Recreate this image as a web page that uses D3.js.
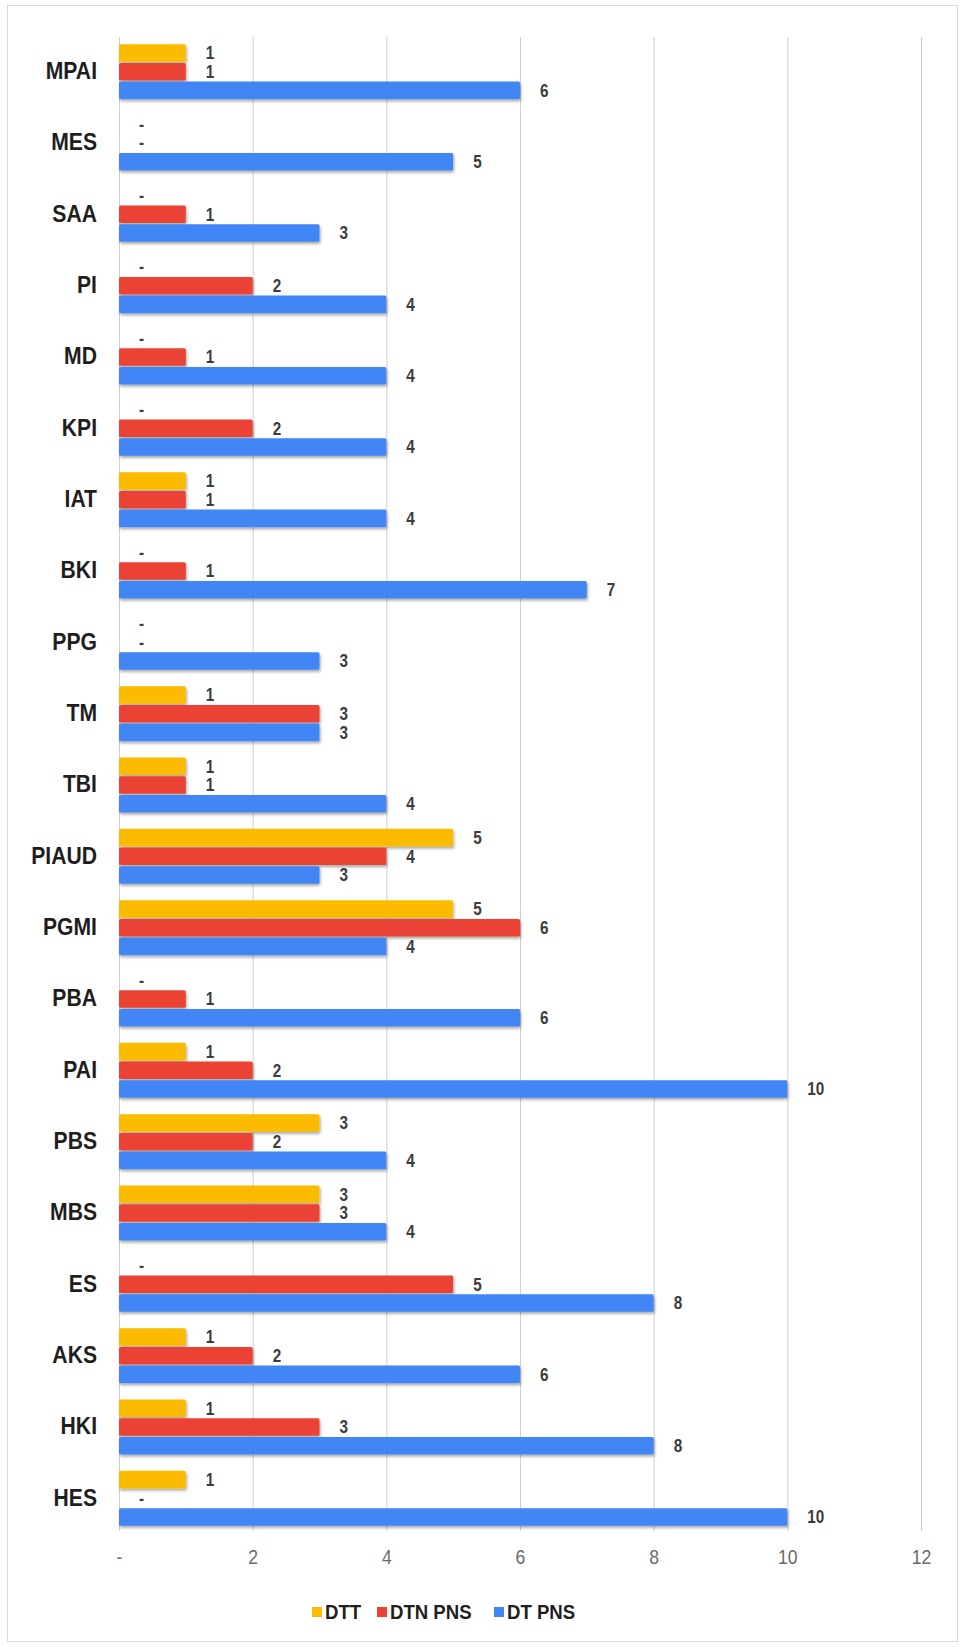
<!DOCTYPE html>
<html>
<head>
<meta charset="utf-8">
<script src="https://cdn.jsdelivr.net/npm/d3@7"></script>
<style>
  html, body { margin: 0; padding: 0; background: #fff; }
  svg { display: block; }
  text { font-family: 'Liberation Sans', Arial, sans-serif; }
</style>
</head>
<body>
<svg id="chart" width="965" height="1647"></svg>
<script>
const categories = ["MPAI","MES","SAA","PI","MD","KPI","IAT","BKI","PPG","TM","TBI","PIAUD","PGMI","PBA","PAI","PBS","MBS","ES","AKS","HKI","HES"];
const seriesNames = ["DTT","DTN PNS","DT PNS"];
const dtt    = [1,0,0,0,0,0,1,0,0,1,1,5,5,0,1,3,3,0,1,1,1];
const dtnPns = [1,0,1,2,1,2,1,1,0,3,1,4,6,1,2,2,3,5,2,3,0];
const dtPns  = [6,5,3,4,4,4,4,7,3,3,4,3,4,6,10,4,4,8,6,8,10];
const xTicks = [0,2,4,6,8,10,12];
const xTickLabels = ["-","2","4","6","8","10","12"];
const colors = ["#FBBC04","#EA4335","#4285F4"];

const seriesValues = [dtt, dtnPns, dtPns];

const svg = d3.select("#chart");

// outer frame
svg.append("rect").attr("x",7.5).attr("y",5.5).attr("width",950).attr("height",1636)
  .attr("fill","#fff").attr("stroke","#d9d9d9").attr("stroke-width",1);

const defs = svg.append("defs");
const f = defs.append("filter").attr("id","shadow").attr("x","-5%").attr("y","-50%").attr("width","110%").attr("height","220%");
f.append("feDropShadow").attr("dx",1).attr("dy",2).attr("stdDeviation",1.6)
  .attr("flood-color","#000").attr("flood-opacity",0.35);

const x = d3.scaleLinear().domain([0,12]).range([119,921]);
const y = d3.scaleBand().domain(categories).range([36,1534]).paddingInner(0.23).paddingOuter(0.115);
const ySub = d3.scaleBand().domain(seriesNames).range([0, y.bandwidth()]).paddingInner(0.06);

// gridlines
svg.append("g").selectAll("line").data(xTicks).join("line")
  .attr("x1", d => x(d) + 0.5).attr("x2", d => x(d) + 0.5)
  .attr("y1", 37).attr("y2", 1531)
  .attr("stroke", "#cfcfcf").attr("stroke-width", 1);

// x axis tick labels
const xAxis = d3.axisBottom(x).tickValues(xTicks).tickSize(0).tickPadding(0)
  .tickFormat((d,i) => xTickLabels[i]);
const gx = svg.append("g").attr("transform","translate(0,1550)").call(xAxis);
gx.select(".domain").remove();
gx.selectAll("text").attr("font-size",20).attr("fill","#6a6a6a").attr("dy","0.71em")
  .attr("y",0).attr("transform","scale(0.88,1)");

// y axis category labels
const ySX = 0.92;
const yAxis = d3.axisLeft(y).tickSize(0).tickPadding(22);
const gy = svg.append("g").attr("transform","translate(119,0)").call(yAxis);
gy.select(".domain").remove();
gy.selectAll("text").attr("font-size",23).attr("font-weight","bold").attr("fill","#1e1e1e")
  .attr("x", -22/ySX).attr("transform",`scale(${ySX},1)`);

// bars
const rows = [];
categories.forEach((c, ci) => {
  seriesNames.forEach((s, si) => {
    rows.push({cat: c, series: s, si, value: seriesValues[si][ci]});
  });
});

const g = svg.append("g");
g.selectAll("rect.bar").data(rows.filter(d => d.value > 0)).join("rect")
  .attr("class","bar")
  .attr("x", x(0))
  .attr("y", d => y(d.cat) + ySub(d.series))
  .attr("width", d => x(d.value) - x(0))
  .attr("height", ySub.bandwidth())
  .attr("rx", 1.5)
  .attr("fill", d => colors[d.si])
  .attr("filter","url(#shadow)");

// value labels
g.selectAll("text.val").data(rows).join("text")
  .attr("class","val")
  .attr("transform", d => `translate(${x(d.value) + 20},${y(d.cat) + ySub(d.series) + ySub.bandwidth()/2}) scale(0.85,1)`)
  .attr("dy","0.36em")
  .attr("font-size",18).attr("font-weight","bold").attr("fill","#3c3c3c")
  .text(d => d.value === 0 ? "-" : d.value);

// legend
const legendX = [312, 377, 494];
const lg = svg.append("g").attr("transform","translate(0,1612)");
seriesNames.forEach((s, i) => {
  lg.append("rect").attr("x", legendX[i]).attr("y", -5).attr("width", 10).attr("height", 10).attr("fill", colors[i]);
  lg.append("text").attr("transform",`translate(${legendX[i] + 13},0) scale(0.93,1)`).attr("dy","0.36em")
    .attr("font-size",20).attr("font-weight","bold").attr("fill","#1e1e1e").text(s);
});
</script>
</body>
</html>
